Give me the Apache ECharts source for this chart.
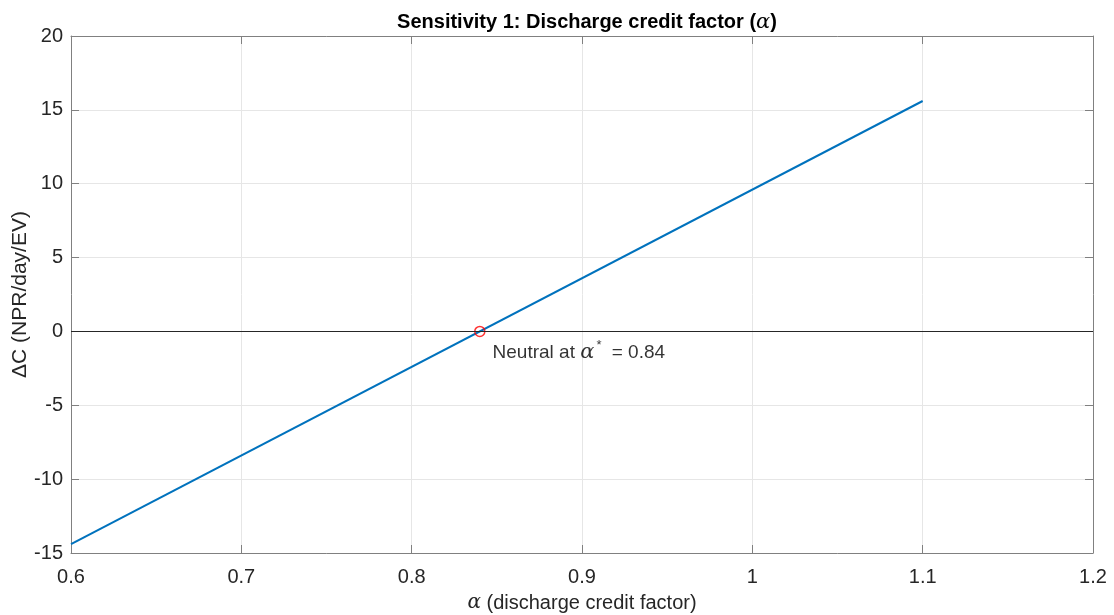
<!DOCTYPE html>
<html>
<head>
<meta charset="utf-8">
<script src="https://cdn.jsdelivr.net/npm/echarts@6/dist/echarts.min.js"></script>
<style>
  html, body { margin: 0; padding: 0; background: #fff; }
  #chart { width: 1114px; height: 615px; }
</style>
</head>
<body>
<div id="chart"></div>
<script>
// data
const alphaValues = [0.6, 1.1]
const deltaCost = [-14.4, 15.6]
const neutralPoint = [0.84, 0]
const xTicks = { min: 0.6, max: 1.2, step: 0.1 }
const yTicks = { min: -15, max: 20, step: 5 }

const axisColor = '#808080'
const labelColor = '#262626'
const gridColor = '#e6e6e6'
const fontFamily = 'Liberation Sans, Arial, sans-serif'
const greek = { fontFamily: 'DejaVu Serif, serif', fontStyle: 'italic' }

const chart = echarts.init(document.getElementById('chart'))

const baseX = {
  type: 'value',
  min: xTicks.min,
  max: xTicks.max,
  interval: xTicks.step,
  axisLine: { show: true, onZero: false, lineStyle: { color: axisColor } },
  axisTick: { show: true, inside: true, length: 8, lineStyle: { color: axisColor } }
}
const baseY = {
  type: 'value',
  min: yTicks.min,
  max: yTicks.max,
  interval: yTicks.step,
  axisLine: { show: true, onZero: false, lineStyle: { color: axisColor } },
  axisTick: { show: true, inside: true, length: 8, lineStyle: { color: axisColor } }
}

const option = {
  animation: false,
  backgroundColor: '#fff',
  title: {
    text: 'Sensitivity 1: Discharge credit factor ({a|α})',
    left: 582,
    textAlign: 'center',
    top: 7,
    textStyle: {
      fontFamily: fontFamily,
      fontSize: 20,
      fontWeight: 'bold',
      color: '#000',
      rich: { a: { ...greek, fontSize: 21, fontWeight: 'normal', color: '#000' } }
    }
  },
  grid: { left: 71, right: 21, top: 36, bottom: 62, containLabel: false, outerBoundsMode: 'none' },
  xAxis: [
    {
      ...baseX,
      position: 'bottom',
      name: '{a|α} (discharge credit factor)',
      nameLocation: 'middle',
      nameGap: 40,
      nameMoveOverlap: false,
      nameTextStyle: {
        fontFamily: fontFamily, fontSize: 20, color: labelColor,
        rich: { a: { ...greek, fontSize: 20, color: labelColor } }
      },
      axisLabel: { fontFamily: fontFamily, fontSize: 20, color: labelColor, margin: 14 },
      splitLine: { show: true, lineStyle: { color: gridColor } }
    },
    {
      ...baseX,
      position: 'top',
      axisLabel: { show: false },
      splitLine: { show: false }
    }
  ],
  yAxis: [
    {
      ...baseY,
      position: 'left',
      name: 'ΔC (NPR/day/EV)',
      nameLocation: 'middle',
      nameGap: 40,
      nameMoveOverlap: false,
      nameTextStyle: { fontFamily: fontFamily, fontSize: 21, color: labelColor },
      axisLabel: { fontFamily: fontFamily, fontSize: 20, color: labelColor, margin: 8 },
      splitLine: { show: true, lineStyle: { color: gridColor } }
    },
    {
      ...baseY,
      position: 'right',
      axisLabel: { show: false },
      splitLine: { show: false }
    }
  ],
  series: [
    {
      type: 'line',
      data: alphaValues.map((a, i) => [a, deltaCost[i]]),
      showSymbol: false,
      lineStyle: { color: '#0072BD', width: 2 },
      z: 3,
      markLine: {
        silent: true,
        symbol: 'none',
        label: { show: false },
        lineStyle: { color: '#262626', width: 1, type: 'solid' },
        data: [{ yAxis: 0 }]
      }
    },
    {
      type: 'scatter',
      data: [neutralPoint],
      symbol: 'circle',
      symbolSize: 10,
      itemStyle: { color: 'rgba(0,0,0,0)', borderColor: '#ff0000', borderWidth: 1.5 },
      z: 4,
      label: {
        show: true,
        position: 'right',
        distance: 7,
        offset: [0, 21],
        formatter: 'Neutral at {a|α}{s|*} = ' + neutralPoint[0].toFixed(2),
        fontFamily: fontFamily,
        fontSize: 19,
        color: '#000',
        rich: {
          a: { ...greek, fontSize: 21, color: '#000' },
          s: { fontFamily: fontFamily, fontSize: 13, color: '#000', verticalAlign: 'top', padding: [0, 5, 14, 2] }
        }
      }
    }
  ]
}

chart.setOption(option)
</script>
</body>
</html>
